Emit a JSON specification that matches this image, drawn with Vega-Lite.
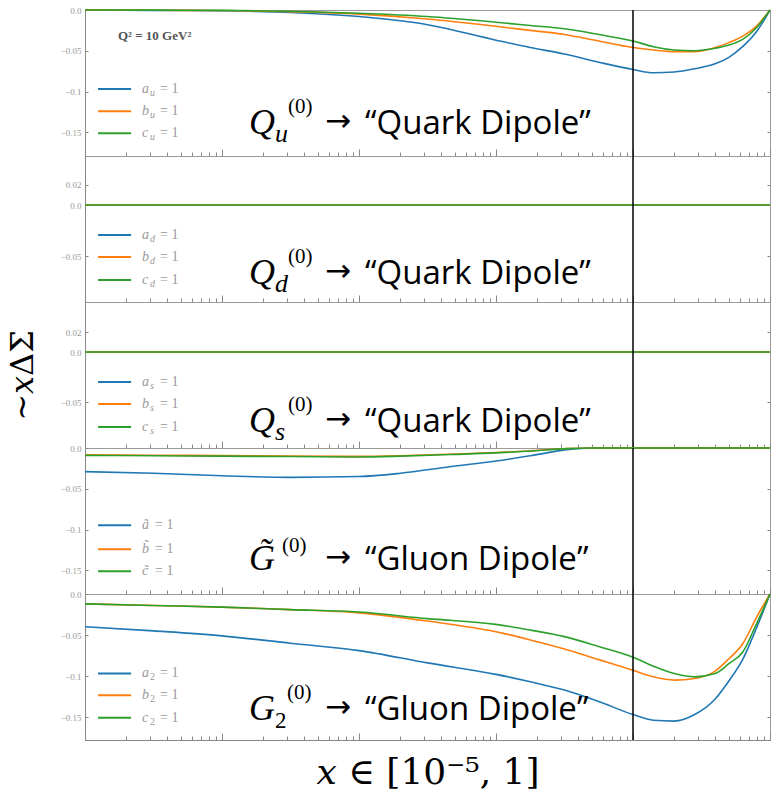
{
  "$schema": "https://vega.github.io/schema/vega-lite/v6.json",
  "padding": {"left": 5, "top": 5, "right": 0, "bottom": 0},
  "background": "white",
  "spacing": 0,
  "bounds": "flush",
  "datasets": {
    "curves": [
      {"p":1,"s":"a","x":0.00001,"y":0},{"p":1,"s":"a","x":0.0000316,"y":-0.0005},{"p":1,"s":"a","x":0.0001,"y":-0.001},{"p":1,"s":"a","x":0.000316,"y":-0.003},{"p":1,"s":"a","x":0.001,"y":-0.008},{"p":1,"s":"a","x":0.00316,"y":-0.018},{"p":1,"s":"a","x":0.01,"y":-0.037},{"p":1,"s":"a","x":0.0178,"y":-0.046},{"p":1,"s":"a","x":0.0316,"y":-0.054},{"p":1,"s":"a","x":0.0562,"y":-0.064},{"p":1,"s":"a","x":0.1,"y":-0.073},{"p":1,"s":"a","x":0.141,"y":-0.077},{"p":1,"s":"a","x":0.2,"y":-0.076},{"p":1,"s":"a","x":0.282,"y":-0.072},{"p":1,"s":"a","x":0.398,"y":-0.066},{"p":1,"s":"a","x":0.501,"y":-0.058},{"p":1,"s":"a","x":0.631,"y":-0.045},{"p":1,"s":"a","x":0.794,"y":-0.027},{"p":1,"s":"a","x":1,"y":0},
      {"p":1,"s":"b","x":0.00001,"y":0},{"p":1,"s":"b","x":0.0000316,"y":-0.0003},{"p":1,"s":"b","x":0.0001,"y":-0.0007},{"p":1,"s":"b","x":0.000316,"y":-0.002},{"p":1,"s":"b","x":0.001,"y":-0.005},{"p":1,"s":"b","x":0.00316,"y":-0.011},{"p":1,"s":"b","x":0.01,"y":-0.020},{"p":1,"s":"b","x":0.0178,"y":-0.025},{"p":1,"s":"b","x":0.0316,"y":-0.030},{"p":1,"s":"b","x":0.0562,"y":-0.038},{"p":1,"s":"b","x":0.1,"y":-0.046},{"p":1,"s":"b","x":0.141,"y":-0.049},{"p":1,"s":"b","x":0.2,"y":-0.051},{"p":1,"s":"b","x":0.282,"y":-0.051},{"p":1,"s":"b","x":0.398,"y":-0.046},{"p":1,"s":"b","x":0.501,"y":-0.040},{"p":1,"s":"b","x":0.631,"y":-0.032},{"p":1,"s":"b","x":0.794,"y":-0.020},{"p":1,"s":"b","x":1,"y":0},
      {"p":1,"s":"c","x":0.00001,"y":0},{"p":1,"s":"c","x":0.0000316,"y":-0.0002},{"p":1,"s":"c","x":0.0001,"y":-0.0005},{"p":1,"s":"c","x":0.000316,"y":-0.0015},{"p":1,"s":"c","x":0.001,"y":-0.004},{"p":1,"s":"c","x":0.00316,"y":-0.008},{"p":1,"s":"c","x":0.01,"y":-0.015},{"p":1,"s":"c","x":0.0178,"y":-0.019},{"p":1,"s":"c","x":0.0316,"y":-0.023},{"p":1,"s":"c","x":0.0562,"y":-0.030},{"p":1,"s":"c","x":0.1,"y":-0.038},{"p":1,"s":"c","x":0.141,"y":-0.045},{"p":1,"s":"c","x":0.2,"y":-0.049},{"p":1,"s":"c","x":0.282,"y":-0.050},{"p":1,"s":"c","x":0.398,"y":-0.047},{"p":1,"s":"c","x":0.501,"y":-0.043},{"p":1,"s":"c","x":0.631,"y":-0.036},{"p":1,"s":"c","x":0.794,"y":-0.022},{"p":1,"s":"c","x":1,"y":0},
      {"p":2,"s":"a","x":0.00001,"y":0},{"p":2,"s":"a","x":1,"y":0},
      {"p":2,"s":"b","x":0.00001,"y":0},{"p":2,"s":"b","x":1,"y":0},
      {"p":2,"s":"c","x":0.00001,"y":0},{"p":2,"s":"c","x":1,"y":0},
      {"p":3,"s":"a","x":0.00001,"y":0},{"p":3,"s":"a","x":1,"y":0},
      {"p":3,"s":"b","x":0.00001,"y":0},{"p":3,"s":"b","x":1,"y":0},
      {"p":3,"s":"c","x":0.00001,"y":0},{"p":3,"s":"c","x":1,"y":0},
      {"p":4,"s":"a","x":0.00001,"y":-0.029},{"p":4,"s":"a","x":0.0000316,"y":-0.031},{"p":4,"s":"a","x":0.0001,"y":-0.034},{"p":4,"s":"a","x":0.000316,"y":-0.036},{"p":4,"s":"a","x":0.001,"y":-0.035},{"p":4,"s":"a","x":0.002,"y":-0.031},{"p":4,"s":"a","x":0.0046,"y":-0.023},{"p":4,"s":"a","x":0.01,"y":-0.016},{"p":4,"s":"a","x":0.0186,"y":-0.009},{"p":4,"s":"a","x":0.033,"y":-0.002},{"p":4,"s":"a","x":0.05,"y":0},{"p":4,"s":"a","x":0.1,"y":0},{"p":4,"s":"a","x":1,"y":0},
      {"p":4,"s":"b","x":0.00001,"y":-0.0083},{"p":4,"s":"b","x":0.0000316,"y":-0.0088},{"p":4,"s":"b","x":0.0001,"y":-0.0093},{"p":4,"s":"b","x":0.000316,"y":-0.0098},{"p":4,"s":"b","x":0.001,"y":-0.0103},{"p":4,"s":"b","x":0.002,"y":-0.0095},{"p":4,"s":"b","x":0.0046,"y":-0.0076},{"p":4,"s":"b","x":0.01,"y":-0.0056},{"p":4,"s":"b","x":0.0186,"y":-0.0032},{"p":4,"s":"b","x":0.033,"y":-0.0007},{"p":4,"s":"b","x":0.05,"y":0},{"p":4,"s":"b","x":0.1,"y":0},{"p":4,"s":"b","x":1,"y":0},
      {"p":4,"s":"c","x":0.00001,"y":-0.009},{"p":4,"s":"c","x":0.0000316,"y":-0.0095},{"p":4,"s":"c","x":0.0001,"y":-0.010},{"p":4,"s":"c","x":0.000316,"y":-0.0105},{"p":4,"s":"c","x":0.001,"y":-0.011},{"p":4,"s":"c","x":0.002,"y":-0.010},{"p":4,"s":"c","x":0.0046,"y":-0.008},{"p":4,"s":"c","x":0.01,"y":-0.006},{"p":4,"s":"c","x":0.0186,"y":-0.0035},{"p":4,"s":"c","x":0.033,"y":-0.0008},{"p":4,"s":"c","x":0.05,"y":0},{"p":4,"s":"c","x":0.1,"y":0},{"p":4,"s":"c","x":1,"y":0},
      {"p":5,"s":"a","x":0.00001,"y":-0.040},{"p":5,"s":"a","x":0.0000316,"y":-0.045},{"p":5,"s":"a","x":0.0001,"y":-0.051},{"p":5,"s":"a","x":0.000316,"y":-0.060},{"p":5,"s":"a","x":0.001,"y":-0.069},{"p":5,"s":"a","x":0.00316,"y":-0.084},{"p":5,"s":"a","x":0.01,"y":-0.098},{"p":5,"s":"a","x":0.0178,"y":-0.107},{"p":5,"s":"a","x":0.0316,"y":-0.117},{"p":5,"s":"a","x":0.0562,"y":-0.131},{"p":5,"s":"a","x":0.1,"y":-0.147},{"p":5,"s":"a","x":0.141,"y":-0.154},{"p":5,"s":"a","x":0.2,"y":-0.155},{"p":5,"s":"a","x":0.282,"y":-0.147},{"p":5,"s":"a","x":0.398,"y":-0.128},{"p":5,"s":"a","x":0.501,"y":-0.106},{"p":5,"s":"a","x":0.631,"y":-0.080},{"p":5,"s":"a","x":0.794,"y":-0.042},{"p":5,"s":"a","x":1,"y":0},
      {"p":5,"s":"b","x":0.00001,"y":-0.012},{"p":5,"s":"b","x":0.0000316,"y":-0.014},{"p":5,"s":"b","x":0.0001,"y":-0.016},{"p":5,"s":"b","x":0.000316,"y":-0.019},{"p":5,"s":"b","x":0.001,"y":-0.023},{"p":5,"s":"b","x":0.00316,"y":-0.033},{"p":5,"s":"b","x":0.01,"y":-0.046},{"p":5,"s":"b","x":0.0178,"y":-0.056},{"p":5,"s":"b","x":0.0316,"y":-0.067},{"p":5,"s":"b","x":0.0562,"y":-0.080},{"p":5,"s":"b","x":0.1,"y":-0.093},{"p":5,"s":"b","x":0.141,"y":-0.101},{"p":5,"s":"b","x":0.2,"y":-0.105},{"p":5,"s":"b","x":0.282,"y":-0.103},{"p":5,"s":"b","x":0.398,"y":-0.094},{"p":5,"s":"b","x":0.501,"y":-0.079},{"p":5,"s":"b","x":0.631,"y":-0.061},{"p":5,"s":"b","x":0.794,"y":-0.029},{"p":5,"s":"b","x":1,"y":0},
      {"p":5,"s":"c","x":0.00001,"y":-0.012},{"p":5,"s":"c","x":0.0000316,"y":-0.014},{"p":5,"s":"c","x":0.0001,"y":-0.016},{"p":5,"s":"c","x":0.000316,"y":-0.019},{"p":5,"s":"c","x":0.001,"y":-0.022},{"p":5,"s":"c","x":0.00316,"y":-0.030},{"p":5,"s":"c","x":0.01,"y":-0.037},{"p":5,"s":"c","x":0.0178,"y":-0.044},{"p":5,"s":"c","x":0.0316,"y":-0.052},{"p":5,"s":"c","x":0.0562,"y":-0.064},{"p":5,"s":"c","x":0.1,"y":-0.077},{"p":5,"s":"c","x":0.141,"y":-0.088},{"p":5,"s":"c","x":0.2,"y":-0.097},{"p":5,"s":"c","x":0.282,"y":-0.101},{"p":5,"s":"c","x":0.398,"y":-0.097},{"p":5,"s":"c","x":0.501,"y":-0.085},{"p":5,"s":"c","x":0.631,"y":-0.071},{"p":5,"s":"c","x":0.794,"y":-0.037},{"p":5,"s":"c","x":1,"y":0}
    ],
    "legend": [
      {"p":1,"s":"a","y":-0.097,"x1":0.00001245,"x2":0.0000217,"m":"a","sub":"u"},
      {"p":1,"s":"b","y":-0.124,"x1":0.00001245,"x2":0.0000217,"m":"b","sub":"u"},
      {"p":1,"s":"c","y":-0.151,"x1":0.00001245,"x2":0.0000217,"m":"c","sub":"u"},
      {"p":2,"s":"a","y":-0.0294,"x1":0.00001245,"x2":0.0000217,"m":"a","sub":"d"},
      {"p":2,"s":"b","y":-0.051,"x1":0.00001245,"x2":0.0000217,"m":"b","sub":"d"},
      {"p":2,"s":"c","y":-0.0735,"x1":0.00001245,"x2":0.0000217,"m":"c","sub":"d"},
      {"p":3,"s":"a","y":-0.030,"x1":0.00001245,"x2":0.0000217,"m":"a","sub":"s"},
      {"p":3,"s":"b","y":-0.052,"x1":0.00001245,"x2":0.0000217,"m":"b","sub":"s"},
      {"p":3,"s":"c","y":-0.075,"x1":0.00001245,"x2":0.0000217,"m":"c","sub":"s"},
      {"p":4,"s":"a","y":-0.0946,"x1":0.00001245,"x2":0.0000217,"m":"ã","sub":""},
      {"p":4,"s":"b","y":-0.124,"x1":0.00001245,"x2":0.0000217,"m":"b̃","sub":""},
      {"p":4,"s":"c","y":-0.151,"x1":0.00001245,"x2":0.0000217,"m":"c̃","sub":""},
      {"p":5,"s":"a","y":-0.0968,"x1":0.00001245,"x2":0.0000217,"m":"a","sub":"2"},
      {"p":5,"s":"b","y":-0.1235,"x1":0.00001245,"x2":0.0000217,"m":"b","sub":"2"},
      {"p":5,"s":"c","y":-0.151,"x1":0.00001245,"x2":0.0000217,"m":"c","sub":"2"}
    ],
    "notes": [
      {"p":1,"x":0.0001574,"y":-0.152,"base":"Q","sub":"u","label":"“Quark Dipole”"},
      {"p":2,"x":0.0001574,"y":-0.077,"base":"Q","sub":"d","label":"“Quark Dipole”"},
      {"p":3,"x":0.0001574,"y":-0.080,"base":"Q","sub":"s","label":"“Quark Dipole”"},
      {"p":4,"x":0.0001574,"y":-0.150,"base":"G̃","sub":"","label":"“Gluon Dipole”"},
      {"p":5,"x":0.0001574,"y":-0.154,"base":"G","sub":"2","label":"“Gluon Dipole”"}
    ]
  },
  "vconcat": [
    {
      "width": 685, "height": 146,
      "resolve": {"axis": {"x": "independent", "y": "independent"}},
      "layer": [
        {"data":{"name":"curves"},"transform":[{"filter":"datum.p==1"}],
         "mark":{"type":"line","strokeWidth":1.6,"interpolate":"monotone"},
         "encoding":{
           "x":{"field":"x","type":"quantitative","scale":{"type":"log","domain":[0.00001,1],"nice":false},
                "axis":{"orient":"bottom","labels":false,"title":null,"values":[0.00001,0.00002,0.00003,0.00004,0.00005,0.00006,0.00007,0.00008,0.00009,0.0001,0.0002,0.0003,0.0004,0.0005,0.0006,0.0007,0.0008,0.0009,0.001,0.002,0.003,0.004,0.005,0.006,0.007,0.008,0.009,0.01,0.02,0.03,0.04,0.05,0.06,0.07,0.08,0.09,0.1,0.2,0.3,0.4,0.5,0.6,0.7,0.8,0.9,1],
                        "tickSize":{"condition":{"test":"abs(log(datum.value)/LN10-round(log(datum.value)/LN10))<0.01","value":-7},"value":-4}}},
           "y":{"field":"y","type":"quantitative","scale":{"domain":[-0.179,0],"nice":false,"zero":false},
                "axis":{"orient":"left","title":null,"values":[0,-0.05,-0.1,-0.15],"labelExpr":"datum.value == 0 ? '0.0' : replace(toString(datum.value), '-', '−')","tickSize":-3,"labelPadding":7}},
           "color":{"field":"s","type":"nominal","scale":{"domain":["a","b","c"],"range":["#1f77b4","#ff7f0e","#2ca02c"]},"legend":null}}},
        {"data":{"name":"legend"},"transform":[{"filter":"datum.p==1"}],
         "mark":{"type":"rule","strokeWidth":2},
         "encoding":{"x":{"field":"x1","type":"quantitative","axis":null},"x2":{"field":"x2"},
           "y":{"field":"y","type":"quantitative","axis":{"orient":"right","labels":false,"domain":false,"title":null,"values":[0,-0.05,-0.1,-0.15],"tickSize":-3}},
           "color":{"field":"s","type":"nominal","legend":null}}},
        {"data":{"name":"legend"},"transform":[{"filter":"datum.p==1"}],
         "mark":{"type":"text","align":"left","baseline":"middle","dx":11,"font":"Liberation Serif","fontStyle":"italic","fontSize":14,"color":"#9a9a9a"},
         "encoding":{"x":{"field":"x2","type":"quantitative","axis":null},"y":{"field":"y","type":"quantitative","axis":null},"text":{"field":"m"}}},
        {"data":{"name":"legend"},"transform":[{"filter":"datum.p==1"}],
         "mark":{"type":"text","align":"left","baseline":"middle","dx":19,"dy":4,"font":"Liberation Serif","fontStyle":"italic","fontSize":10,"color":"#9a9a9a"},
         "encoding":{"x":{"field":"x2","type":"quantitative","axis":null},"y":{"field":"y","type":"quantitative","axis":null},"text":{"field":"sub"}}},
        {"data":{"name":"legend"},"transform":[{"filter":"datum.p==1"}],
         "mark":{"type":"text","align":"left","baseline":"middle","dx":29,"font":"Liberation Serif","fontSize":14,"color":"#9a9a9a","text":"= 1"},
         "encoding":{"x":{"field":"x2","type":"quantitative","axis":null},"y":{"field":"y","type":"quantitative","axis":null}}},
        {"data":{"values":[{"x":0.0000174,"y":-0.032,"t":"Q² = 10 GeV²"}]},
         "mark":{"type":"text","align":"left","baseline":"middle","font":"Liberation Serif","fontWeight":"bold","fontSize":13,"color":"#555555"},
         "encoding":{"x":{"field":"x","type":"quantitative","axis":null},"y":{"field":"y","type":"quantitative","axis":null},"text":{"field":"t"}}},
        {"data":{"name":"notes"},"transform":[{"filter":"datum.p==1"}],
         "mark":{"type":"text","align":"left","baseline":"alphabetic","font":"Liberation Serif","fontStyle":"italic","fontSize":36,"color":"black"},
         "encoding":{"x":{"field":"x","type":"quantitative","axis":null},"y":{"field":"y","type":"quantitative","axis":null},"text":{"field":"base"}}},
        {"data":{"name":"notes"},"transform":[{"filter":"datum.p==1"}],
         "mark":{"type":"text","align":"left","baseline":"alphabetic","dx":26,"dy":8,"font":"Liberation Serif","fontStyle":"italic","fontSize":26,"color":"black"},
         "encoding":{"x":{"field":"x","type":"quantitative","axis":null},"y":{"field":"y","type":"quantitative","axis":null},"text":{"field":"sub"}}},
        {"data":{"name":"notes"},"transform":[{"filter":"datum.p==1"}],
         "mark":{"type":"text","align":"left","baseline":"alphabetic","dx":39,"dy":-21,"font":"Liberation Serif","fontSize":21,"color":"black","text":"(0)"},
         "encoding":{"x":{"field":"x","type":"quantitative","axis":null},"y":{"field":"y","type":"quantitative","axis":null}}},
        {"data":{"name":"notes"},"transform":[{"filter":"datum.p==1"}],
         "mark":{"type":"text","align":"left","baseline":"alphabetic","dx":76,"dy":-3,"font":"DejaVu Sans","fontSize":31,"color":"black","text":"→"},
         "encoding":{"x":{"field":"x","type":"quantitative","axis":null},"y":{"field":"y","type":"quantitative","axis":null}}},
        {"data":{"name":"notes"},"transform":[{"filter":"datum.p==1"}],
         "mark":{"type":"text","align":"left","baseline":"alphabetic","dx":116,"font":"Open Sans","fontSize":33,"color":"black"},
         "encoding":{"x":{"field":"x","type":"quantitative","axis":null},"y":{"field":"y","type":"quantitative","axis":null},"text":{"field":"label"}}},
        {"data":{"values":[{"x":0.1}]},"mark":{"type":"rule","color":"black","strokeWidth":1.5},
         "encoding":{"x":{"field":"x","type":"quantitative","axis":null}}}
      ]
    },
    {
      "width": 685, "height": 146,
      "resolve": {"axis": {"x": "independent", "y": "independent"}},
      "layer": [
        {"data":{"name":"curves"},"transform":[{"filter":"datum.p==2"}],
         "mark":{"type":"line","strokeWidth":1.6,"interpolate":"monotone"},
         "encoding":{
           "x":{"field":"x","type":"quantitative","scale":{"type":"log","domain":[0.00001,1],"nice":false},
                "axis":{"orient":"bottom","labels":false,"title":null,"values":[0.00001,0.00002,0.00003,0.00004,0.00005,0.00006,0.00007,0.00008,0.00009,0.0001,0.0002,0.0003,0.0004,0.0005,0.0006,0.0007,0.0008,0.0009,0.001,0.002,0.003,0.004,0.005,0.006,0.007,0.008,0.009,0.01,0.02,0.03,0.04,0.05,0.06,0.07,0.08,0.09,0.1,0.2,0.3,0.4,0.5,0.6,0.7,0.8,0.9,1],
                        "tickSize":{"condition":{"test":"abs(log(datum.value)/LN10-round(log(datum.value)/LN10))<0.01","value":-7},"value":-4}}},
           "y":{"field":"y","type":"quantitative","scale":{"domain":[-0.095,0.048],"nice":false,"zero":false},
                "axis":{"orient":"left","title":null,"values":[0.02,0,-0.05],"labelExpr":"datum.value == 0 ? '0.0' : replace(toString(datum.value), '-', '−')","tickSize":-3,"labelPadding":7}},
           "color":{"field":"s","type":"nominal","scale":{"domain":["a","b","c"],"range":["#1f77b4","#ff7f0e","#2ca02c"]},"legend":null}}},
        {"data":{"name":"legend"},"transform":[{"filter":"datum.p==2"}],
         "mark":{"type":"rule","strokeWidth":2},
         "encoding":{"x":{"field":"x1","type":"quantitative","axis":null},"x2":{"field":"x2"},
           "y":{"field":"y","type":"quantitative","axis":{"orient":"right","labels":false,"domain":false,"title":null,"values":[0.02,0,-0.05],"tickSize":-3}},
           "color":{"field":"s","type":"nominal","legend":null}}},
        {"data":{"name":"legend"},"transform":[{"filter":"datum.p==2"}],
         "mark":{"type":"text","align":"left","baseline":"middle","dx":11,"font":"Liberation Serif","fontStyle":"italic","fontSize":14,"color":"#9a9a9a"},
         "encoding":{"x":{"field":"x2","type":"quantitative","axis":null},"y":{"field":"y","type":"quantitative","axis":null},"text":{"field":"m"}}},
        {"data":{"name":"legend"},"transform":[{"filter":"datum.p==2"}],
         "mark":{"type":"text","align":"left","baseline":"middle","dx":19,"dy":4,"font":"Liberation Serif","fontStyle":"italic","fontSize":10,"color":"#9a9a9a"},
         "encoding":{"x":{"field":"x2","type":"quantitative","axis":null},"y":{"field":"y","type":"quantitative","axis":null},"text":{"field":"sub"}}},
        {"data":{"name":"legend"},"transform":[{"filter":"datum.p==2"}],
         "mark":{"type":"text","align":"left","baseline":"middle","dx":29,"font":"Liberation Serif","fontSize":14,"color":"#9a9a9a","text":"= 1"},
         "encoding":{"x":{"field":"x2","type":"quantitative","axis":null},"y":{"field":"y","type":"quantitative","axis":null}}},
        {"data":{"name":"notes"},"transform":[{"filter":"datum.p==2"}],
         "mark":{"type":"text","align":"left","baseline":"alphabetic","font":"Liberation Serif","fontStyle":"italic","fontSize":36,"color":"black"},
         "encoding":{"x":{"field":"x","type":"quantitative","axis":null},"y":{"field":"y","type":"quantitative","axis":null},"text":{"field":"base"}}},
        {"data":{"name":"notes"},"transform":[{"filter":"datum.p==2"}],
         "mark":{"type":"text","align":"left","baseline":"alphabetic","dx":26,"dy":8,"font":"Liberation Serif","fontStyle":"italic","fontSize":26,"color":"black"},
         "encoding":{"x":{"field":"x","type":"quantitative","axis":null},"y":{"field":"y","type":"quantitative","axis":null},"text":{"field":"sub"}}},
        {"data":{"name":"notes"},"transform":[{"filter":"datum.p==2"}],
         "mark":{"type":"text","align":"left","baseline":"alphabetic","dx":39,"dy":-21,"font":"Liberation Serif","fontSize":21,"color":"black","text":"(0)"},
         "encoding":{"x":{"field":"x","type":"quantitative","axis":null},"y":{"field":"y","type":"quantitative","axis":null}}},
        {"data":{"name":"notes"},"transform":[{"filter":"datum.p==2"}],
         "mark":{"type":"text","align":"left","baseline":"alphabetic","dx":76,"dy":-3,"font":"DejaVu Sans","fontSize":31,"color":"black","text":"→"},
         "encoding":{"x":{"field":"x","type":"quantitative","axis":null},"y":{"field":"y","type":"quantitative","axis":null}}},
        {"data":{"name":"notes"},"transform":[{"filter":"datum.p==2"}],
         "mark":{"type":"text","align":"left","baseline":"alphabetic","dx":116,"font":"Open Sans","fontSize":33,"color":"black"},
         "encoding":{"x":{"field":"x","type":"quantitative","axis":null},"y":{"field":"y","type":"quantitative","axis":null},"text":{"field":"label"}}},
        {"data":{"values":[{"x":0.1}]},"mark":{"type":"rule","color":"black","strokeWidth":1.5},
         "encoding":{"x":{"field":"x","type":"quantitative","axis":null}}}
      ]
    },
    {
      "width": 685, "height": 146,
      "resolve": {"axis": {"x": "independent", "y": "independent"}},
      "layer": [
        {"data":{"name":"curves"},"transform":[{"filter":"datum.p==3"}],
         "mark":{"type":"line","strokeWidth":1.6,"interpolate":"monotone"},
         "encoding":{
           "x":{"field":"x","type":"quantitative","scale":{"type":"log","domain":[0.00001,1],"nice":false},
                "axis":{"orient":"bottom","labels":false,"title":null,"values":[0.00001,0.00002,0.00003,0.00004,0.00005,0.00006,0.00007,0.00008,0.00009,0.0001,0.0002,0.0003,0.0004,0.0005,0.0006,0.0007,0.0008,0.0009,0.001,0.002,0.003,0.004,0.005,0.006,0.007,0.008,0.009,0.01,0.02,0.03,0.04,0.05,0.06,0.07,0.08,0.09,0.1,0.2,0.3,0.4,0.5,0.6,0.7,0.8,0.9,1],
                        "tickSize":{"condition":{"test":"abs(log(datum.value)/LN10-round(log(datum.value)/LN10))<0.01","value":-7},"value":-4}}},
           "y":{"field":"y","type":"quantitative","scale":{"domain":[-0.096,0.05],"nice":false,"zero":false},
                "axis":{"orient":"left","title":"~𝑥ΔΣ","titleFont":"DejaVu Serif","titleFontSize":32,"titleFontWeight":"normal","titleColor":"black","titlePadding":21,"values":[0.02,0,-0.05],"labelExpr":"datum.value == 0 ? '0.0' : replace(toString(datum.value), '-', '−')","tickSize":-3,"labelPadding":7}},
           "color":{"field":"s","type":"nominal","scale":{"domain":["a","b","c"],"range":["#1f77b4","#ff7f0e","#2ca02c"]},"legend":null}}},
        {"data":{"name":"legend"},"transform":[{"filter":"datum.p==3"}],
         "mark":{"type":"rule","strokeWidth":2},
         "encoding":{"x":{"field":"x1","type":"quantitative","axis":null},"x2":{"field":"x2"},
           "y":{"field":"y","type":"quantitative","axis":{"orient":"right","labels":false,"domain":false,"title":null,"values":[0.02,0,-0.05],"tickSize":-3}},
           "color":{"field":"s","type":"nominal","legend":null}}},
        {"data":{"name":"legend"},"transform":[{"filter":"datum.p==3"}],
         "mark":{"type":"text","align":"left","baseline":"middle","dx":11,"font":"Liberation Serif","fontStyle":"italic","fontSize":14,"color":"#9a9a9a"},
         "encoding":{"x":{"field":"x2","type":"quantitative","axis":null},"y":{"field":"y","type":"quantitative","axis":null},"text":{"field":"m"}}},
        {"data":{"name":"legend"},"transform":[{"filter":"datum.p==3"}],
         "mark":{"type":"text","align":"left","baseline":"middle","dx":19,"dy":4,"font":"Liberation Serif","fontStyle":"italic","fontSize":10,"color":"#9a9a9a"},
         "encoding":{"x":{"field":"x2","type":"quantitative","axis":null},"y":{"field":"y","type":"quantitative","axis":null},"text":{"field":"sub"}}},
        {"data":{"name":"legend"},"transform":[{"filter":"datum.p==3"}],
         "mark":{"type":"text","align":"left","baseline":"middle","dx":29,"font":"Liberation Serif","fontSize":14,"color":"#9a9a9a","text":"= 1"},
         "encoding":{"x":{"field":"x2","type":"quantitative","axis":null},"y":{"field":"y","type":"quantitative","axis":null}}},
        {"data":{"name":"notes"},"transform":[{"filter":"datum.p==3"}],
         "mark":{"type":"text","align":"left","baseline":"alphabetic","font":"Liberation Serif","fontStyle":"italic","fontSize":36,"color":"black"},
         "encoding":{"x":{"field":"x","type":"quantitative","axis":null},"y":{"field":"y","type":"quantitative","axis":null},"text":{"field":"base"}}},
        {"data":{"name":"notes"},"transform":[{"filter":"datum.p==3"}],
         "mark":{"type":"text","align":"left","baseline":"alphabetic","dx":26,"dy":8,"font":"Liberation Serif","fontStyle":"italic","fontSize":26,"color":"black"},
         "encoding":{"x":{"field":"x","type":"quantitative","axis":null},"y":{"field":"y","type":"quantitative","axis":null},"text":{"field":"sub"}}},
        {"data":{"name":"notes"},"transform":[{"filter":"datum.p==3"}],
         "mark":{"type":"text","align":"left","baseline":"alphabetic","dx":39,"dy":-21,"font":"Liberation Serif","fontSize":21,"color":"black","text":"(0)"},
         "encoding":{"x":{"field":"x","type":"quantitative","axis":null},"y":{"field":"y","type":"quantitative","axis":null}}},
        {"data":{"name":"notes"},"transform":[{"filter":"datum.p==3"}],
         "mark":{"type":"text","align":"left","baseline":"alphabetic","dx":76,"dy":-3,"font":"DejaVu Sans","fontSize":31,"color":"black","text":"→"},
         "encoding":{"x":{"field":"x","type":"quantitative","axis":null},"y":{"field":"y","type":"quantitative","axis":null}}},
        {"data":{"name":"notes"},"transform":[{"filter":"datum.p==3"}],
         "mark":{"type":"text","align":"left","baseline":"alphabetic","dx":116,"font":"Open Sans","fontSize":33,"color":"black"},
         "encoding":{"x":{"field":"x","type":"quantitative","axis":null},"y":{"field":"y","type":"quantitative","axis":null},"text":{"field":"label"}}},
        {"data":{"values":[{"x":0.1}]},"mark":{"type":"rule","color":"black","strokeWidth":1.5},
         "encoding":{"x":{"field":"x","type":"quantitative","axis":null}}}
      ]
    },
    {
      "width": 685, "height": 146,
      "resolve": {"axis": {"x": "independent", "y": "independent"}},
      "layer": [
        {"data":{"name":"curves"},"transform":[{"filter":"datum.p==4"}],
         "mark":{"type":"line","strokeWidth":1.6,"interpolate":"monotone"},
         "encoding":{
           "x":{"field":"x","type":"quantitative","scale":{"type":"log","domain":[0.00001,1],"nice":false},
                "axis":{"orient":"bottom","labels":false,"title":null,"values":[0.00001,0.00002,0.00003,0.00004,0.00005,0.00006,0.00007,0.00008,0.00009,0.0001,0.0002,0.0003,0.0004,0.0005,0.0006,0.0007,0.0008,0.0009,0.001,0.002,0.003,0.004,0.005,0.006,0.007,0.008,0.009,0.01,0.02,0.03,0.04,0.05,0.06,0.07,0.08,0.09,0.1,0.2,0.3,0.4,0.5,0.6,0.7,0.8,0.9,1],
                        "tickSize":{"condition":{"test":"abs(log(datum.value)/LN10-round(log(datum.value)/LN10))<0.01","value":-7},"value":-4}}},
           "y":{"field":"y","type":"quantitative","scale":{"domain":[-0.179,0],"nice":false,"zero":false},
                "axis":{"orient":"left","title":null,"values":[0,-0.05,-0.1,-0.15],"labelExpr":"datum.value == 0 ? '0.0' : replace(toString(datum.value), '-', '−')","tickSize":-3,"labelPadding":7}},
           "color":{"field":"s","type":"nominal","scale":{"domain":["a","b","c"],"range":["#1f77b4","#ff7f0e","#2ca02c"]},"legend":null}}},
        {"data":{"name":"legend"},"transform":[{"filter":"datum.p==4"}],
         "mark":{"type":"rule","strokeWidth":2},
         "encoding":{"x":{"field":"x1","type":"quantitative","axis":null},"x2":{"field":"x2"},
           "y":{"field":"y","type":"quantitative","axis":{"orient":"right","labels":false,"domain":false,"title":null,"values":[0,-0.05,-0.1,-0.15],"tickSize":-3}},
           "color":{"field":"s","type":"nominal","legend":null}}},
        {"data":{"name":"legend"},"transform":[{"filter":"datum.p==4"}],
         "mark":{"type":"text","align":"left","baseline":"middle","dx":11,"font":"Liberation Serif","fontStyle":"italic","fontSize":14,"color":"#9a9a9a"},
         "encoding":{"x":{"field":"x2","type":"quantitative","axis":null},"y":{"field":"y","type":"quantitative","axis":null},"text":{"field":"m"}}},
        {"data":{"name":"legend"},"transform":[{"filter":"datum.p==4"}],
         "mark":{"type":"text","align":"left","baseline":"middle","dx":24,"font":"Liberation Serif","fontSize":14,"color":"#9a9a9a","text":"= 1"},
         "encoding":{"x":{"field":"x2","type":"quantitative","axis":null},"y":{"field":"y","type":"quantitative","axis":null}}},
        {"data":{"name":"notes"},"transform":[{"filter":"datum.p==4"}],
         "mark":{"type":"text","align":"left","baseline":"alphabetic","font":"Liberation Serif","fontStyle":"italic","fontSize":36,"color":"black"},
         "encoding":{"x":{"field":"x","type":"quantitative","axis":null},"y":{"field":"y","type":"quantitative","axis":null},"text":{"field":"base"}}},
        {"data":{"name":"notes"},"transform":[{"filter":"datum.p==4"}],
         "mark":{"type":"text","align":"left","baseline":"alphabetic","dx":33,"dy":-18,"font":"Liberation Serif","fontSize":21,"color":"black","text":"(0)"},
         "encoding":{"x":{"field":"x","type":"quantitative","axis":null},"y":{"field":"y","type":"quantitative","axis":null}}},
        {"data":{"name":"notes"},"transform":[{"filter":"datum.p==4"}],
         "mark":{"type":"text","align":"left","baseline":"alphabetic","dx":76,"dy":-3,"font":"DejaVu Sans","fontSize":31,"color":"black","text":"→"},
         "encoding":{"x":{"field":"x","type":"quantitative","axis":null},"y":{"field":"y","type":"quantitative","axis":null}}},
        {"data":{"name":"notes"},"transform":[{"filter":"datum.p==4"}],
         "mark":{"type":"text","align":"left","baseline":"alphabetic","dx":116,"font":"Open Sans","fontSize":33,"color":"black"},
         "encoding":{"x":{"field":"x","type":"quantitative","axis":null},"y":{"field":"y","type":"quantitative","axis":null},"text":{"field":"label"}}},
        {"data":{"values":[{"x":0.1}]},"mark":{"type":"rule","color":"black","strokeWidth":1.5},
         "encoding":{"x":{"field":"x","type":"quantitative","axis":null}}}
      ]
    },
    {
      "width": 685, "height": 146,
      "resolve": {"axis": {"x": "independent", "y": "independent"}},
      "layer": [
        {"data":{"name":"curves"},"transform":[{"filter":"datum.p==5"}],
         "mark":{"type":"line","strokeWidth":1.6,"interpolate":"monotone"},
         "encoding":{
           "x":{"field":"x","type":"quantitative","scale":{"type":"log","domain":[0.00001,1],"nice":false},
                "axis":{"orient":"bottom","labels":false,"title":"𝑥 ∈ [10⁻⁵, 1]","titleFont":"DejaVu Serif","titleFontSize":36,"titleFontWeight":"normal","titleColor":"black","titlePadding":15,"values":[0.00001,0.00002,0.00003,0.00004,0.00005,0.00006,0.00007,0.00008,0.00009,0.0001,0.0002,0.0003,0.0004,0.0005,0.0006,0.0007,0.0008,0.0009,0.001,0.002,0.003,0.004,0.005,0.006,0.007,0.008,0.009,0.01,0.02,0.03,0.04,0.05,0.06,0.07,0.08,0.09,0.1,0.2,0.3,0.4,0.5,0.6,0.7,0.8,0.9,1],
                        "tickSize":{"condition":{"test":"abs(log(datum.value)/LN10-round(log(datum.value)/LN10))<0.01","value":-7},"value":-4}}},
           "y":{"field":"y","type":"quantitative","scale":{"domain":[-0.178,0],"nice":false,"zero":false},
                "axis":{"orient":"left","title":null,"values":[0,-0.05,-0.1,-0.15],"labelExpr":"datum.value == 0 ? '0.0' : replace(toString(datum.value), '-', '−')","tickSize":-3,"labelPadding":7}},
           "color":{"field":"s","type":"nominal","scale":{"domain":["a","b","c"],"range":["#1f77b4","#ff7f0e","#2ca02c"]},"legend":null}}},
        {"data":{"name":"legend"},"transform":[{"filter":"datum.p==5"}],
         "mark":{"type":"rule","strokeWidth":2},
         "encoding":{"x":{"field":"x1","type":"quantitative","axis":null},"x2":{"field":"x2"},
           "y":{"field":"y","type":"quantitative","axis":{"orient":"right","labels":false,"domain":false,"title":null,"values":[0,-0.05,-0.1,-0.15],"tickSize":-3}},
           "color":{"field":"s","type":"nominal","legend":null}}},
        {"data":{"name":"legend"},"transform":[{"filter":"datum.p==5"}],
         "mark":{"type":"text","align":"left","baseline":"middle","dx":11,"font":"Liberation Serif","fontStyle":"italic","fontSize":14,"color":"#9a9a9a"},
         "encoding":{"x":{"field":"x2","type":"quantitative","axis":null},"y":{"field":"y","type":"quantitative","axis":null},"text":{"field":"m"}}},
        {"data":{"name":"legend"},"transform":[{"filter":"datum.p==5"}],
         "mark":{"type":"text","align":"left","baseline":"middle","dx":19,"dy":4,"font":"Liberation Serif","fontSize":10,"color":"#9a9a9a"},
         "encoding":{"x":{"field":"x2","type":"quantitative","axis":null},"y":{"field":"y","type":"quantitative","axis":null},"text":{"field":"sub"}}},
        {"data":{"name":"legend"},"transform":[{"filter":"datum.p==5"}],
         "mark":{"type":"text","align":"left","baseline":"middle","dx":29,"font":"Liberation Serif","fontSize":14,"color":"#9a9a9a","text":"= 1"},
         "encoding":{"x":{"field":"x2","type":"quantitative","axis":null},"y":{"field":"y","type":"quantitative","axis":null}}},
        {"data":{"name":"notes"},"transform":[{"filter":"datum.p==5"}],
         "mark":{"type":"text","align":"left","baseline":"alphabetic","font":"Liberation Serif","fontStyle":"italic","fontSize":36,"color":"black"},
         "encoding":{"x":{"field":"x","type":"quantitative","axis":null},"y":{"field":"y","type":"quantitative","axis":null},"text":{"field":"base"}}},
        {"data":{"name":"notes"},"transform":[{"filter":"datum.p==5"}],
         "mark":{"type":"text","align":"left","baseline":"alphabetic","dx":26,"dy":8,"font":"Liberation Serif","fontSize":23,"color":"black"},
         "encoding":{"x":{"field":"x","type":"quantitative","axis":null},"y":{"field":"y","type":"quantitative","axis":null},"text":{"field":"sub"}}},
        {"data":{"name":"notes"},"transform":[{"filter":"datum.p==5"}],
         "mark":{"type":"text","align":"left","baseline":"alphabetic","dx":38,"dy":-21,"font":"Liberation Serif","fontSize":21,"color":"black","text":"(0)"},
         "encoding":{"x":{"field":"x","type":"quantitative","axis":null},"y":{"field":"y","type":"quantitative","axis":null}}},
        {"data":{"name":"notes"},"transform":[{"filter":"datum.p==5"}],
         "mark":{"type":"text","align":"left","baseline":"alphabetic","dx":76,"dy":-3,"font":"DejaVu Sans","fontSize":31,"color":"black","text":"→"},
         "encoding":{"x":{"field":"x","type":"quantitative","axis":null},"y":{"field":"y","type":"quantitative","axis":null}}},
        {"data":{"name":"notes"},"transform":[{"filter":"datum.p==5"}],
         "mark":{"type":"text","align":"left","baseline":"alphabetic","dx":116,"font":"Open Sans","fontSize":33,"color":"black"},
         "encoding":{"x":{"field":"x","type":"quantitative","axis":null},"y":{"field":"y","type":"quantitative","axis":null},"text":{"field":"label"}}},
        {"data":{"values":[{"x":0.1}]},"mark":{"type":"rule","color":"black","strokeWidth":1.5},
         "encoding":{"x":{"field":"x","type":"quantitative","axis":null}}}
      ]
    }
  ],
  "config": {
    "view": {"stroke": "#9a9a9a", "strokeWidth": 1},
    "axis": {"grid": false, "domainColor": "#888888", "tickColor": "#888888", "labelColor": "#999999", "labelFont": "Liberation Serif", "labelFontSize": 9}
  }
}
